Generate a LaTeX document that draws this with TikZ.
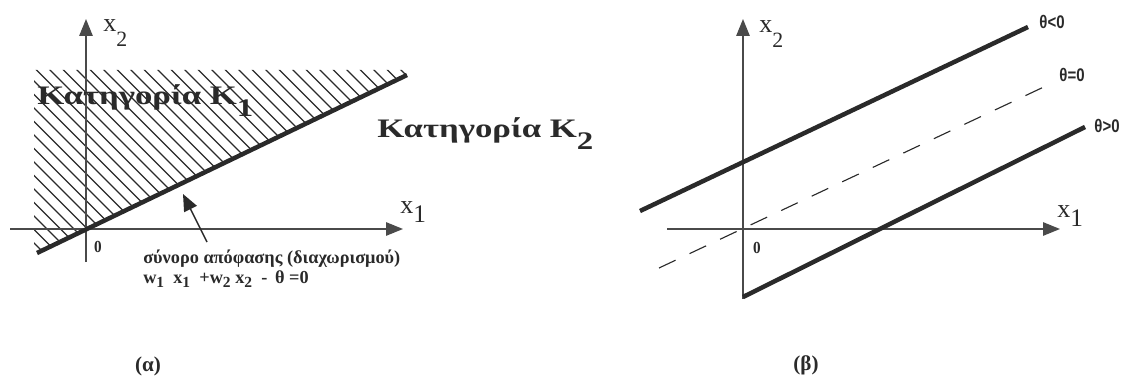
\documentclass[tikz,border=0pt]{standalone}
\usepackage{fontspec}
\setmainfont{Liberation Serif}
\setsansfont{Liberation Sans}
\usetikzlibrary{arrows.meta}
\definecolor{ink}{HTML}{2A2A2A}
\definecolor{axcol}{HTML}{4A4A4A}
\begin{document}
\begin{tikzpicture}[x=0.025cm,y=-0.025cm,
  axis/.style={draw=axcol, line width=1pt, -{Triangle[length=12pt,width=9.5pt]}},
  bound/.style={draw=ink, line width=3.2pt},
  dline/.style={draw=ink, line width=0.8pt, dash pattern=on 13pt off 11pt},
  hatch/.style={draw=ink, line width=0.8pt},
  pointer/.style={draw=ink, line width=1pt, -{Triangle[length=12pt,width=10pt]}},
  cat/.style={text=ink, font=\bfseries\fontsize{19}{19}\selectfont, inner sep=0pt, xscale=1.3},
  axlab/.style={text=ink, inner sep=0pt},
  small/.style={text=ink, font=\bfseries\fontsize{12}{12}\selectfont, inner sep=0pt, xscale=0.9},
  thlab/.style={text=ink, font=\sffamily\bfseries\fontsize{13}{13}\selectfont, inner sep=0pt, xscale=0.82},
  note/.style={text=ink, font=\bfseries\fontsize{13}{13}\selectfont, inner sep=0pt, anchor=base west},
  captlab/.style={text=ink, font=\bfseries\fontsize{15}{15}\selectfont, inner sep=0pt}]
\useasboundingbox (0,0) rectangle (1126,381);
\newcommand{\xlabtwo}[1]{\fontsize{18.5}{18.5}\selectfont x\raisebox{-10.6pt}{\fontsize{15.5}{15.5}\selectfont #1}}
\newcommand{\xlabone}[1]{\fontsize{18.5}{18.5}\selectfont x\raisebox{-7pt}{\fontsize{18}{18}\selectfont #1}}
\newcommand{\ksub}[1]{\raisebox{-8pt}{\fontsize{18}{18}\selectfont #1}}
\newcommand{\wsub}[1]{\raisebox{-3.5pt}{\fontsize{11}{11}\selectfont #1}}

% ---------- left panel (a) ----------
\begin{scope}
  \clip (34,70) -- (407,70) -- (407,75) -- (37,253) -- (34,253) -- cycle;
  \foreach \k in {-230,-216.5,...,420} \draw[hatch] (\k,60) -- (\k+210,270);
\end{scope}
\coordinate (LxS) at (10,229);
\coordinate (LxE) at (403,229);
\coordinate (LyS) at (86,262);
\coordinate (LyE) at (86,19);
\draw[axis] (LxS) -- (LxE);
\draw[axis] (LyS) -- (LyE);
\coordinate (LbA) at (37,253);
\coordinate (LbB) at (407,75);
\draw[bound] (LbA) -- (LbB);
\coordinate (Ptail) at (207,242);
\coordinate (Ptip) at (183,194);
\draw[pointer] (Ptail) -- (Ptip);

\node[axlab, anchor=base west] (Lx2) at (103,32) {\xlabtwo{2}};
\node[axlab, anchor=base west] (Lx1) at (400,213) {\xlabone{1}};
\node[small, anchor=center] (L0) at (98,247) {0};
\node[cat, anchor=base west] (K1) at (37,105) {Κατηγορία Κ\ksub{1}};
\node[cat, anchor=base west] (K2) at (377,138) {Κατηγορία Κ\ksub{2}};
\node[note] (T1) at (143,263) {σύνορο απόφασης (διαχωρισμού)};
\node[note] (T2) at (143,283) {w\wsub{1}\ \ x\wsub{1}\ \ +w\wsub{2}\ x\wsub{2}\ \ -\ \,θ\ =0};
\node[captlab] (Ca) at (148,366) {(α)};

% ---------- right panel (b) ----------
\coordinate (RxS) at (667,229);
\coordinate (RxE) at (1060,229);
\coordinate (RyS) at (743,299);
\coordinate (RyE) at (743,19);
\draw[axis] (RxS) -- (RxE);
\draw[axis] (RyS) -- (RyE);
\coordinate (TA) at (640,211);
\coordinate (TB) at (1028,27);
\draw[bound] (TA) -- (TB);
\coordinate (DA) at (659,268);
\coordinate (DB) at (1048,85);
\draw[dline] (DA) -- (DB);
\coordinate (BA) at (743,297);
\coordinate (BB) at (1085,127);
\draw[bound] (BA) -- (BB);

\node[thlab] (Tn) at (1052,22) {θ<0};
\node[thlab] (Tz) at (1072,75) {θ=0};
\node[thlab] (Tp) at (1107,126) {θ>0};
\node[axlab, anchor=base west] (Rx2) at (759,33) {\xlabtwo{2}};
\node[axlab, anchor=base west] (Rx1) at (1057,217) {\xlabone{1}};
\node[small, anchor=center] (R0) at (757,248) {0};
\node[captlab] (Cb) at (806,365) {(β)};
\end{tikzpicture}
\end{document}
